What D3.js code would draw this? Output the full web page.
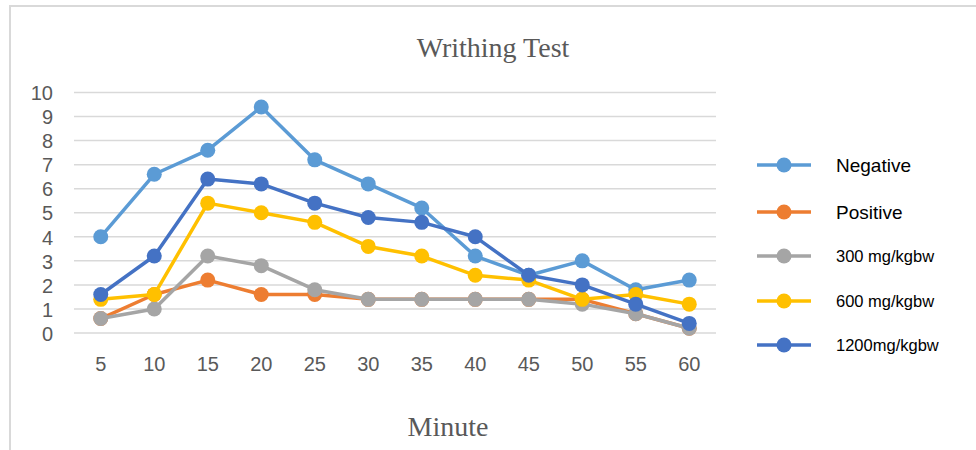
<!DOCTYPE html>
<html><head><meta charset="utf-8">
<script src="https://cdn.jsdelivr.net/npm/d3@7"></script>
<style>html,body{margin:0;padding:0;background:#fff;}svg{display:block;}</style>
</head><body>
<script>
const minutes = [5,10,15,20,25,30,35,40,45,50,55,60];
const seriesNames = ["Negative","Positive","300 mg/kgbw","600 mg/kgbw","1200mg/kgbw"];
const seriesColors = ["#5B9BD5","#ED7D31","#A5A5A5","#FFC000","#4472C4"];
const negative = [4.0,6.6,7.6,9.4,7.2,6.2,5.2,3.2,2.4,3.0,1.8,2.2];
const positive = [0.6,1.6,2.2,1.6,1.6,1.4,1.4,1.4,1.4,1.4,0.8,0.2];
const dose300  = [0.6,1.0,3.2,2.8,1.8,1.4,1.4,1.4,1.4,1.2,0.8,0.2];
const dose600  = [1.4,1.6,5.4,5.0,4.6,3.6,3.2,2.4,2.2,1.4,1.6,1.2];
const dose1200 = [1.6,3.2,6.4,6.2,5.4,4.8,4.6,4.0,2.4,2.0,1.2,0.4];
const yTicks = [0,1,2,3,4,5,6,7,8,9,10];
const seriesValues = [negative, positive, dose300, dose600, dose1200];

const W = 976, H = 450;
const svg = d3.select("body").append("svg").attr("width", W).attr("height", H);

// frame
svg.append("path").attr("d", `M10,${H} L10,6 L${W},6`)
  .attr("fill","none").attr("stroke","#d9d9d9").attr("stroke-width",2);

const x = d3.scaleBand().domain(minutes).range([74, 716]);
const y = d3.scaleLinear().domain([0,10]).range([333, 92.5]);

// gridlines
svg.append("g").selectAll("line").data(yTicks).join("line")
  .attr("x1", 74).attr("x2", 716)
  .attr("y1", d => y(d)).attr("y2", d => y(d))
  .attr("stroke", "#d9d9d9").attr("stroke-width", 1.5);

// y axis labels
const yAxis = svg.append("g").attr("transform","translate(62,0)")
  .call(d3.axisLeft(y).tickValues(yTicks).tickSize(0).tickPadding(0));
yAxis.select(".domain").remove();
yAxis.selectAll("text").attr("x", -9).attr("dy","0.36em")
  .attr("font-family","'Liberation Sans', Arial, sans-serif").attr("font-size",20).attr("fill","#595959");

// x axis labels
const xAxis = svg.append("g").attr("transform","translate(0,357)")
  .call(d3.axisBottom(x).tickSize(0).tickPadding(0));
xAxis.select(".domain").remove();
xAxis.selectAll("text").attr("y", 0).attr("dy", "0.71em")
  .attr("font-family","'Liberation Sans', Arial, sans-serif").attr("font-size",20).attr("fill","#595959");

const cx = d => x(d) + x.bandwidth()/2;
const line = d3.line().x(d => cx(d[0])).y(d => y(d[1]));

seriesValues.forEach((vals, i) => {
  const pts = minutes.map((m, j) => [m, vals[j]]);
  const g = svg.append("g");
  g.append("path").datum(pts).attr("d", line)
    .attr("fill","none").attr("stroke", seriesColors[i]).attr("stroke-width", 3.5)
    .attr("stroke-linejoin","round");
  g.selectAll("circle").data(pts).join("circle")
    .attr("cx", d => cx(d[0])).attr("cy", d => y(d[1])).attr("r", 7.5)
    .attr("fill", seriesColors[i]);
});

// title
svg.append("text").attr("x", 493).attr("y", 57).attr("text-anchor","middle")
  .attr("font-family","'Liberation Serif', 'Times New Roman', serif").attr("font-size",28)
  .attr("fill","#595959").text("Writhing Test");

// x axis title
svg.append("text").attr("x", 448).attr("y", 436).attr("text-anchor","middle")
  .attr("font-family","'Liberation Serif', 'Times New Roman', serif").attr("font-size",28)
  .attr("fill","#595959").text("Minute");

// legend
const legY = [165, 212, 256, 301, 345];
const legSizes = [19, 19, 16.5, 16.5, 16.5];
const leg = svg.append("g");
seriesNames.forEach((name, i) => {
  const gy = legY[i];
  leg.append("line").attr("x1", 757).attr("x2", 811).attr("y1", gy).attr("y2", gy)
    .attr("stroke", seriesColors[i]).attr("stroke-width", 3.5);
  leg.append("circle").attr("cx", 784).attr("cy", gy).attr("r", 7.5).attr("fill", seriesColors[i]);
  leg.append("text").attr("x", 836).attr("y", gy).attr("dy","0.35em")
    .attr("font-family","'Liberation Sans', Arial, sans-serif").attr("font-size", legSizes[i])
    .attr("fill","#000").text(name);
});
</script>
</body></html>
